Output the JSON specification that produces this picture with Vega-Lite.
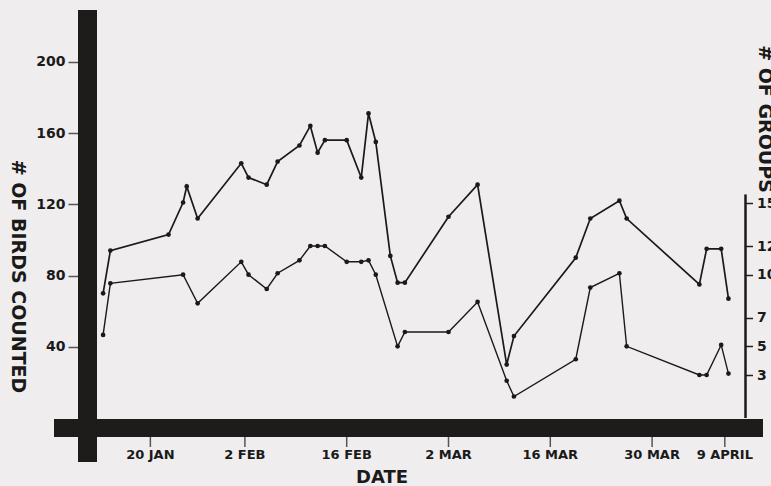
{
  "$schema": "https://vega.github.io/schema/vega-lite/v6.json",
  "width": 658,
  "height": 418,
  "autosize": {"type": "none"},
  "padding": {"left": 87.5, "top": 10, "right": 25.5, "bottom": 58},
  "background": "#efeded",
  "config": {
    "view": {"stroke": null},
    "axis": {
      "grid": false,
      "labelFont": "DejaVu Sans",
      "labelFontWeight": "bold",
      "labelColor": "#1a1a1a",
      "titleFont": "DejaVu Sans",
      "titleFontWeight": "bold",
      "titleColor": "#1a1a1a"
    }
  },
  "datasets": {
    "birds": [
      {"day": 13.5, "count": 70},
      {"day": 14.5, "count": 94},
      {"day": 22.5, "count": 103},
      {"day": 24.5, "count": 121},
      {"day": 25, "count": 130},
      {"day": 26.5, "count": 112},
      {"day": 32.5, "count": 143},
      {"day": 33.5, "count": 135},
      {"day": 36, "count": 131},
      {"day": 37.5, "count": 144},
      {"day": 40.5, "count": 153},
      {"day": 42, "count": 164},
      {"day": 43, "count": 149},
      {"day": 44, "count": 156},
      {"day": 47, "count": 156},
      {"day": 49, "count": 135},
      {"day": 50, "count": 171},
      {"day": 51, "count": 155},
      {"day": 53, "count": 91},
      {"day": 54, "count": 76},
      {"day": 55, "count": 76},
      {"day": 61, "count": 113},
      {"day": 65, "count": 131},
      {"day": 69, "count": 30},
      {"day": 70, "count": 46},
      {"day": 78.5, "count": 90},
      {"day": 80.5, "count": 112},
      {"day": 84.5, "count": 122},
      {"day": 85.5, "count": 112},
      {"day": 95.5, "count": 75},
      {"day": 96.5, "count": 95},
      {"day": 98.5, "count": 95},
      {"day": 99.5, "count": 67}
    ],
    "groups": [
      {"day": 13.5, "count": 5.8},
      {"day": 14.5, "count": 9.4},
      {"day": 24.5, "count": 10},
      {"day": 26.5, "count": 8},
      {"day": 32.5, "count": 10.9},
      {"day": 33.5, "count": 10},
      {"day": 36, "count": 9},
      {"day": 37.5, "count": 10.1},
      {"day": 40.5, "count": 11},
      {"day": 42, "count": 12},
      {"day": 43, "count": 12},
      {"day": 44, "count": 12},
      {"day": 47, "count": 10.9},
      {"day": 49, "count": 10.9},
      {"day": 50, "count": 11},
      {"day": 51, "count": 10},
      {"day": 54, "count": 5},
      {"day": 55, "count": 6},
      {"day": 61, "count": 6},
      {"day": 65, "count": 8.1},
      {"day": 69, "count": 2.6},
      {"day": 70, "count": 1.5},
      {"day": 78.5, "count": 4.1},
      {"day": 80.5, "count": 9.1},
      {"day": 84.5, "count": 10.1},
      {"day": 85.5, "count": 5},
      {"day": 95.5, "count": 3},
      {"day": 96.5, "count": 3},
      {"day": 98.5, "count": 5.1},
      {"day": 99.5, "count": 3.1}
    ],
    "ticks": [
      {"day": 20, "label": "20 JAN"},
      {"day": 33, "label": "2 FEB"},
      {"day": 47, "label": "16 FEB"},
      {"day": 61, "label": "2 MAR"},
      {"day": 75, "label": "16 MAR"},
      {"day": 89, "label": "30 MAR"},
      {"day": 99, "label": "9 APRIL"}
    ],
    "frame": [{"part": "frame"}]
  },
  "layer": [
    {
      "data": {"name": "ticks"},
      "mark": {"type": "rule", "color": "#555555", "strokeWidth": 1.5},
      "encoding": {
        "x": {"field": "day", "type": "quantitative", "axis": null},
        "y": {"datum": -5.615, "type": "quantitative", "scale": {"domain": [-5.615, 229.08], "nice": false, "zero": false}, "axis": null},
        "y2": {"datum": -16.28}
      }
    },
    {
      "data": {"name": "ticks"},
      "mark": {"type": "text", "font": "DejaVu Sans", "fontWeight": "bold", "fontSize": 13, "color": "#1a1a1a", "align": "center", "baseline": "middle"},
      "encoding": {
        "x": {"field": "day", "type": "quantitative", "axis": null},
        "y": {"datum": -21.0, "type": "quantitative", "scale": {"domain": [-5.615, 229.08], "nice": false, "zero": false}, "axis": null},
        "text": {"field": "label", "type": "nominal"}
      }
    },
    {
      "data": {"name": "frame"},
      "mark": {"type": "text", "text": "DATE", "font": "DejaVu Sans", "fontWeight": "bold", "fontSize": 18, "color": "#1a1a1a", "align": "center", "baseline": "middle"},
      "encoding": {
        "x": {"datum": 51.85, "type": "quantitative", "axis": null},
        "y": {"datum": -33.9, "type": "quantitative", "scale": {"domain": [-5.615, 229.08], "nice": false, "zero": false}, "axis": null}
      }
    },
    {
      "data": {"name": "frame"},
      "mark": {"type": "rule", "color": "#1e1b1b", "strokeWidth": 19, "strokeCap": "butt"},
      "encoding": {
        "x": {"datum": 11.354, "type": "quantitative", "axis": null},
        "y": {"datum": -24.7, "type": "quantitative", "scale": {"domain": [-5.615, 229.08], "nice": false, "zero": false}, "axis": null},
        "y2": {"datum": 229.08}
      }
    },
    {
      "data": {"name": "frame"},
      "mark": {"type": "rule", "color": "#1e1b1b", "strokeWidth": 18, "strokeCap": "butt"},
      "encoding": {
        "x": {"datum": 6.747, "type": "quantitative", "axis": null},
        "x2": {"datum": 104.249},
        "y": {"datum": -5.615, "type": "quantitative", "scale": {"domain": [-5.615, 229.08], "nice": false, "zero": false}, "axis": null}
      }
    },
    {
      "data": {"name": "birds"},
      "mark": {"type": "line", "color": "#1a1a1a", "strokeWidth": 1.7},
      "encoding": {
        "x": {
          "field": "day",
          "type": "quantitative",
          "scale": {"domain": [11.354, 101.844], "nice": false, "zero": false},
          "axis": null
        },
        "y": {
          "field": "count",
          "type": "quantitative",
          "scale": {"domain": [-5.615, 229.08], "nice": false, "zero": false},
          "axis": {
            "orient": "left",
            "domain": false,
            "values": [40, 80, 120, 160, 200],
            "labelFontSize": 14,
            "labelPadding": 3,
            "tickSize": 19.5,
            "tickWidth": 1.5,
            "tickColor": "#555555",
            "title": "# OF BIRDS COUNTED",
            "titleFontSize": 19,
            "titleAngle": 90,
            "titleX": -70,
            "titleY": 266,
            "titleAlign": "center",
            "titleBaseline": "middle"
          }
        }
      }
    },
    {
      "data": {"name": "birds"},
      "mark": {"type": "point", "filled": true, "color": "#1a1a1a", "size": 22, "opacity": 1},
      "encoding": {
        "x": {"field": "day", "type": "quantitative", "axis": null},
        "y": {"field": "count", "type": "quantitative", "scale": {"domain": [-5.615, 229.08], "nice": false, "zero": false}, "axis": null}
      }
    },
    {
      "data": {"name": "groups"},
      "mark": {"type": "line", "color": "#1a1a1a", "strokeWidth": 1.4},
      "encoding": {
        "x": {"field": "day", "type": "quantitative", "axis": null},
        "y": {
          "field": "count",
          "type": "quantitative",
          "scale": {"domain": [-0.698, 28.47], "nice": false, "zero": false},
          "axis": {
            "orient": "right",
            "domain": false,
            "values": [3, 5, 7, 10, 12, 15],
            "labelFontSize": 14,
            "labelPadding": 4,
            "tickSize": 7,
            "tickWidth": 1.5,
            "tickColor": "#222222",
            "title": "# OF GROUPS",
            "titleFontSize": 19,
            "titleAngle": 90,
            "titleX": 18.5,
            "titleY": 108.5,
            "titleAlign": "center",
            "titleBaseline": "middle"
          }
        }
      }
    },
    {
      "data": {"name": "groups"},
      "mark": {"type": "point", "filled": true, "color": "#1a1a1a", "size": 22, "opacity": 1},
      "encoding": {
        "x": {"field": "day", "type": "quantitative", "axis": null},
        "y": {"field": "count", "type": "quantitative", "scale": {"domain": [-0.698, 28.47], "nice": false, "zero": false}, "axis": null}
      }
    },
    {
      "data": {"name": "frame"},
      "mark": {"type": "rule", "color": "#1a1a1a", "strokeWidth": 2.5, "strokeCap": "butt"},
      "encoding": {
        "x": {"datum": 101.844, "type": "quantitative", "axis": null},
        "y": {"datum": 0, "type": "quantitative", "scale": {"domain": [-0.698, 28.47], "nice": false, "zero": false}, "axis": null},
        "y2": {"datum": 15.6}
      }
    }
  ],
  "resolve": {"scale": {"y": "independent"}}
}
